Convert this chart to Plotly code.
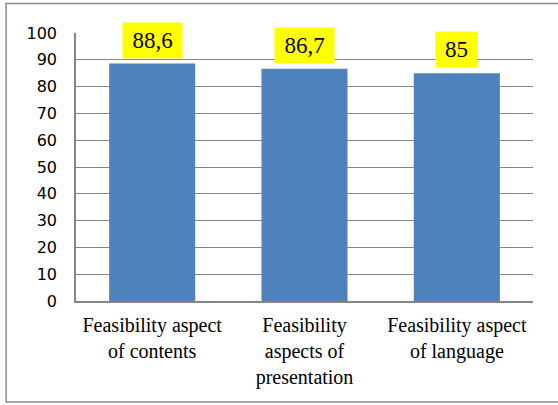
import plotly.graph_objects as go

categories = ["Feasibility aspect<br>of contents", "Feasibility<br>aspects of<br>presentation", "Feasibility aspect<br>of language"]
values = [88.6, 86.7, 85]
labels = ["88,6", "86,7", "85"]
y_ticks = list(range(0, 101, 10))

fig = go.Figure()
fig.add_trace(go.Bar(x=categories, y=values, marker_color="#4F81BD", width=0.565,
                     marker_line_width=0, showlegend=False))

for c, v, t in zip(categories, values, labels):
    fig.add_annotation(x=c, y=v, text=t, showarrow=False, yanchor="bottom", yshift=5,
                       bgcolor="#FFFF00", borderpad=4, width=9 * len(t) + 15, height=27,
                       font=dict(family="Liberation Serif", size=23, color="black"))

fig.add_shape(type="rect", xref="paper", yref="paper", x0=-0.153, x1=1.07, y0=-0.377, y1=1.1097,
              line=dict(color="#8c8c8c", width=1.5), fillcolor="rgba(0,0,0,0)", layer="below")

fig.update_layout(
    width=558, height=405,
    margin=dict(l=76, r=25, t=32.5, b=103.5),
    plot_bgcolor="white", paper_bgcolor="white",
    xaxis=dict(showline=True, linecolor="#868686", linewidth=1.5, ticks="", ticklabelstandoff=5,
               tickfont=dict(family="Liberation Serif", size=20, color="black")),
    yaxis=dict(range=[0, 100], tickvals=y_ticks, showgrid=True, gridcolor="#868686", gridwidth=1.2,
               showline=True, linecolor="#868686", linewidth=1.5, ticks="", ticklen=0,
               ticklabelstandoff=14,
               tickfont=dict(family="DejaVu Sans", size=16, color="black"), zeroline=False),
)
fig.write_html("out.html", config={"displayModeBar": False},
               post_script="document.body.style.margin='0';")
